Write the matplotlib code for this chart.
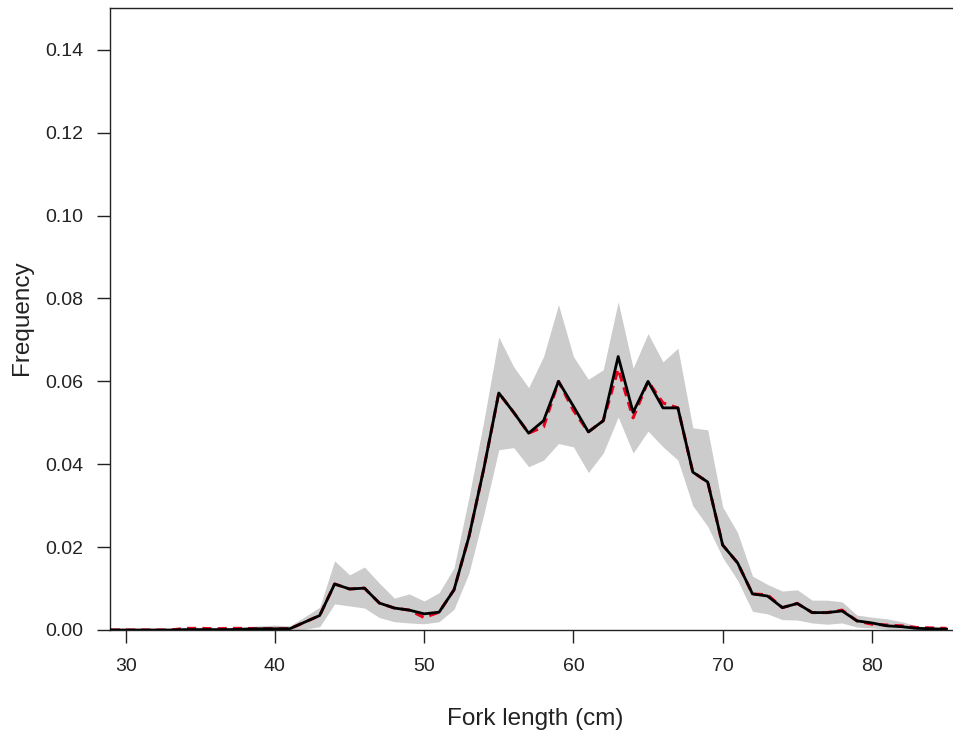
import matplotlib
matplotlib.use("Agg")
import matplotlib.pyplot as plt
import numpy as np

plt.rcParams['font.family'] = ['Liberation Sans', 'DejaVu Sans']

# Fork length classes (cm)
lengths = list(range(29, 86))

# Black line (estimated frequency)
freq_black = [0, 0, 0, 0, 0, 0.0001, 0.0001, 0.0001, 0.0001, 0.0002,
              0.0003, 0.0003, 0.0003, 0.0019, 0.0035, 0.0111, 0.0099, 0.0101, 0.0065, 0.0053,
              0.0048, 0.0039, 0.0043, 0.0097, 0.0225, 0.0390, 0.0572, 0.0525, 0.0475, 0.0505,
              0.0600, 0.0540, 0.0478, 0.0505, 0.0660, 0.0525, 0.0600, 0.0536, 0.0536, 0.0381,
              0.0357, 0.0205, 0.0162, 0.0087, 0.0082, 0.0054, 0.0064, 0.0042, 0.0042, 0.0046,
              0.0022, 0.0017, 0.0010, 0.0008, 0.0004, 0.0003, 0.0002]

# Red dashed line (alternative estimate)
freq_red = [0, 0, 0, 0, 0, 0.0004, 0.0004, 0.0003, 0.0004, 0.0004,
            0.0003, 0.0003, 0.0003, 0.0019, 0.0035, 0.0111, 0.0099, 0.0101, 0.0065, 0.0053,
            0.0048, 0.0030, 0.0043, 0.0097, 0.0225, 0.0390, 0.0572, 0.0525, 0.0475, 0.0490,
            0.0600, 0.0530, 0.0478, 0.0505, 0.0630, 0.0512, 0.0600, 0.0548, 0.0536, 0.0381,
            0.0357, 0.0205, 0.0162, 0.0087, 0.0085, 0.0054, 0.0064, 0.0042, 0.0042, 0.0048,
            0.0022, 0.0014, 0.0012, 0.0010, 0.0006, 0.0005, 0.0004]

# Grey band: upper and lower limits
upper = [0.0003, 0.0003, 0.0003, 0.0003, 0.0003, 0.0003, 0.0003, 0.0003, 0.0005, 0.0008,
         0.0010, 0.0012, 0.0010, 0.0032, 0.0055, 0.0167, 0.0133, 0.0152, 0.0113, 0.0077,
         0.0087, 0.0070, 0.0090, 0.0150, 0.0320, 0.0505, 0.0707, 0.0635, 0.0585, 0.0660,
         0.0785, 0.0660, 0.0605, 0.0628, 0.0792, 0.0632, 0.0715, 0.0647, 0.0680, 0.0488,
         0.0483, 0.0297, 0.0235, 0.0130, 0.0110, 0.0094, 0.0097, 0.0072, 0.0072, 0.0068,
         0.0036, 0.0031, 0.0027, 0.0020, 0.0010, 0.0005, 0.0003]

lower = [0, 0, 0, 0, 0, 0, 0, 0, 0, 0,
         0, 0, 0, 0.0002, 0.0008, 0.0063, 0.0058, 0.0053, 0.0030, 0.0020,
         0.0017, 0.0015, 0.0020, 0.0050, 0.0137, 0.0280, 0.0435, 0.0440, 0.0394, 0.0410,
         0.0450, 0.0442, 0.0380, 0.0427, 0.0514, 0.0427, 0.0480, 0.0442, 0.0410, 0.0300,
         0.0250, 0.0175, 0.0120, 0.0045, 0.0039, 0.0025, 0.0024, 0.0017, 0.0014, 0.0017,
         0.0007, 0.0005, 0.0002, 0, 0, 0, 0]

x_ticks = [30, 40, 50, 60, 70, 80]
y_ticks = [0.00, 0.02, 0.04, 0.06, 0.08, 0.10, 0.12, 0.14]

W, H = 954, 736
fig = plt.figure(figsize=(W / 100, H / 100), dpi=100)
left, right, top, bottom = 110, 954, 8, 630
ax = fig.add_axes([left / W, 1 - bottom / H, (right - left) / W, (bottom - top) / H])

ax.fill_between(lengths, lower, upper, color='#cccccc', linewidth=0, zorder=1)
ax.plot(lengths, freq_red, color='#e8001c', linestyle=(0, (3, 2)), linewidth=2.2, zorder=2)
ax.plot(lengths, freq_black, color='black', linewidth=2.0, zorder=3)

ax.set_xlim(28.95, 85.5)
ax.set_ylim(0, 0.1501)

ax.set_xticks(x_ticks)
ax.set_xticklabels([str(v) for v in x_ticks])
ax.set_yticks(y_ticks)
ax.set_yticklabels([f"{v:.2f}" for v in y_ticks])

ax.tick_params(axis='both', direction='out', length=9.4, width=1.0, color='#222222',
               labelsize=14, labelcolor='#222222')
ax.tick_params(axis='x', pad=11)
ax.tick_params(axis='y', pad=10)

for side in ['left', 'top', 'bottom']:
    ax.spines[side].set_linewidth(1.0)
    ax.spines[side].set_color('#222222')
ax.spines['right'].set_visible(False)

fig.text(535 / W, 1 - 719 / H, 'Fork length (cm)', ha='center', va='center',
         fontsize=17.5, color='#222222')
fig.text(22 / W, 1 - 318 / H, 'Frequency', ha='center', va='center', rotation=90,
         fontsize=17.5, color='#222222')

fig.savefig('out.png', dpi=100)
